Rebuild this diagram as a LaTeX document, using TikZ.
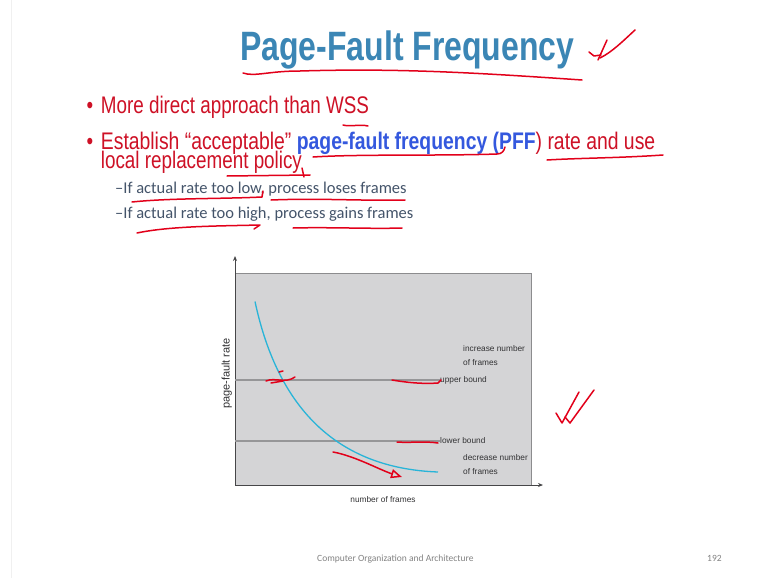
\documentclass[tikz,border=0pt]{standalone}
\usepackage{fontspec}
\usepackage{tikz}
\usetikzlibrary{arrows.meta}
\setmainfont{Liberation Sans}
\newfontfamily\narrowfont[FakeStretch=0.78]{Liberation Sans}
\newfontfamily\bodyfont[FakeStretch=0.785]{Liberation Sans}
\newfontfamily\estfont[FakeStretch=0.807]{Liberation Sans}
\newfontfamily\calfont{Carlito}
\definecolor{titleblue}{RGB}{59,134,181}
\definecolor{bulletred}{RGB}{206,17,38}
\definecolor{pffblue}{RGB}{52,88,222}
\definecolor{subgray}{RGB}{68,84,106}
\definecolor{inkred}{RGB}{226,0,26}
\definecolor{plotgray}{RGB}{212,212,214}
\definecolor{framegray}{RGB}{140,140,142}
\definecolor{axisgray}{RGB}{70,70,72}
\definecolor{boundgray}{RGB}{150,150,152}
\definecolor{curvecyan}{RGB}{40,180,216}
\definecolor{lblgray}{RGB}{50,50,52}
\definecolor{footgray}{RGB}{130,130,130}

\begin{document}
\begin{tikzpicture}[x=1pt, y=-1pt,
	txt/.style={inner sep=0pt, anchor=base west},
	bul/.style={txt, text=bulletred, font=\bodyfont\fontsize{24}{24}\selectfont},
	sub/.style={txt, text=subgray, font=\calfont\fontsize{16.5}{16.5}\selectfont},
	lbl/.style={inner sep=0pt, text=lblgray, font=\fontsize{8.3}{13.5}\selectfont},
	ink/.style={draw=inkred, line width=1.5pt, line cap=round, line join=round}]
		\useasboundingbox[fill=white] (0,0) rectangle (767,578);
		\draw[gray!12] (11,0) -- (11,578);

		\node[txt, text=titleblue, font=\narrowfont\bfseries\fontsize{41}{41}\selectfont] (title) at (240,60) {Page-Fault Frequency};

		\node[bul] (dot1) at (86.5,113.7) {•};
		\node[bul] (more) at (100.7,113.7) {More direct approach than WSS};
		\node[bul] (dot2) at (86.5,149.3) {•};
		\node[bul, font=\estfont\fontsize{24}{24}\selectfont] (est) at (100.7,149.3) {Establish “acceptable” {\bfseries\color{pffblue}page-fault frequency (PFF}) rate and use};
		\node[bul] (local) at (100.7,168) {local replacement policy};
		\node[sub] (low) at (115,193.3) {–If actual rate too low, process loses frames};
		\node[sub] (high) at (115,218.3) {–If actual rate too high, process gains frames};

		\coordinate (O) at (235,485);
		\fill[plotgray] (O) rectangle (531,273);
		\draw[framegray, line width=0.8] (235,273) -- (531,273) -- (531,485);
		\draw[axisgray, line width=1, -{Stealth[length=5pt,width=4pt]}] (O) -- (235,256);
		\draw[axisgray, line width=1, -{Stealth[length=5pt,width=4pt]}] (O) -- (543,485);

		\node[lbl, anchor=west] (ub) at (440,380) {upper bound};
		\node[lbl, anchor=west] (lb) at (440,441) {lower bound};
		\coordinate (ubstart) at (235,380);
		\coordinate (lbstart) at (235,441);
		\draw[boundgray, line width=1.6] (ubstart) -- (ub.west);
		\draw[boundgray, line width=1.6] (lbstart) -- (lb.west);
		\node[lbl, anchor=base west, align=left] (inc) at (463,365) {increase number\\of frames};
		\node[lbl, anchor=base west, align=left] (dec) at (463,474.3) {decrease number\\of frames};
		\node[lbl, rotate=90, font=\fontsize{11}{11}\selectfont] (ylab) at (226.7,373.5) {page-fault rate};
		\node[lbl, anchor=base] (xlab) at (383,502) {number of frames};

		\draw[curvecyan, line width=1.3] (255,301.5) .. controls (276,400) and (330,468) .. (438,472);

		\node[txt, text=footgray, font=\calfont\fontsize{9.5}{9.5}\selectfont] (foot) at (317,561.7) {Computer Organization and Architecture};
		\node[txt, text=footgray, font=\calfont\fontsize{9.5}{9.5}\selectfont] (page) at (707,561.7) {192};

		\draw[ink] (243,73) .. controls (255,77) and (268,71) .. (300,71) .. controls (400,68) and (480,73) .. (582,80);
		\draw[ink] (589,52) -- (594,56) -- (601,55);
		\draw[ink] (598,60) -- (607,40);
		\draw[ink] (600,58) .. controls (612,52) and (622,42) .. (635,30);
		\draw[ink] (343,125) .. controls (350,127) and (360,124) .. (368,126);
		\draw[ink] (313,157) .. controls (360,154) and (440,156) .. (497,154) .. controls (502,154) and (504,151) .. (505,147);
		\draw[ink] (547,160) .. controls (580,158) and (620,158) .. (663,155);
		\draw[ink] (227,176) -- (310,175);
		\draw[ink] (302,168) -- (304,177);
		\draw[ink] (132,202) .. controls (170,198) and (220,199) .. (262,197) -- (263,191);
		\draw[ink] (271,200) .. controls (320,198) and (360,201) .. (405,200);
		\draw[ink] (137,233) .. controls (170,226) and (220,226) .. (260,225) -- (254,229);
		\draw[ink] (293,228) .. controls (330,227) and (370,229) .. (402,228);

		\draw[ink] (266,381) .. controls (275,377) and (285,384) .. (295,377);
		\draw[ink] (271,383) -- (283,381);
		\draw[ink] (279,372) -- (283,371);
		\draw[ink] (392,380) .. controls (410,383) and (425,384) .. (438,383) -- (441,380);
		\draw[ink] (397,442) .. controls (410,443) and (425,441) .. (438,443);
		\draw[ink, -{Triangle[open, length=11pt, width=9pt]}] (333,452) .. controls (355,456) and (380,470) .. (402,477);
		\draw[ink] (556,413) -- (562,423) -- (579,392);
		\draw[ink] (565,417) -- (570,423) -- (594,390);
\end{tikzpicture}
\end{document}
